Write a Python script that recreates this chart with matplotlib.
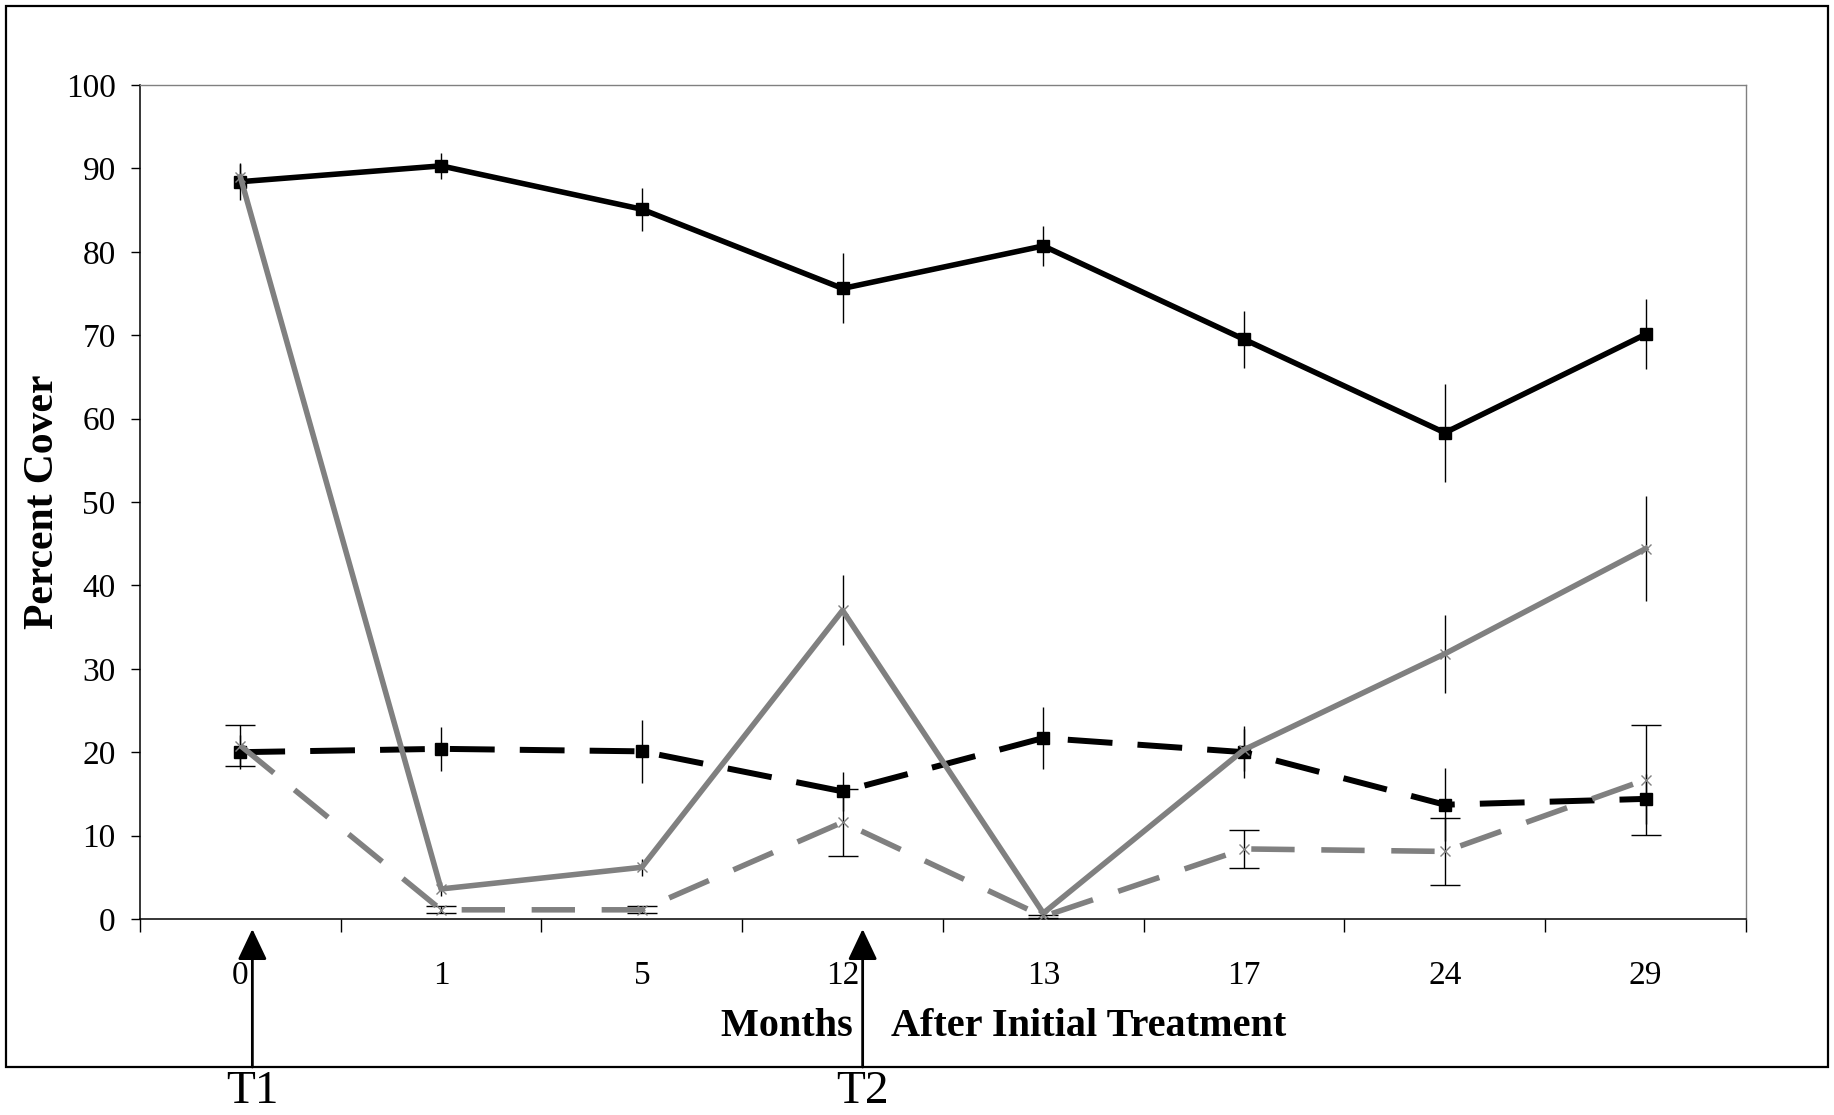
import matplotlib.pyplot as plt
from matplotlib.patches import Rectangle

plt.rcParams['font.family'] = ['Liberation Serif', 'DejaVu Serif']

# months after initial treatment (category axis)
months = ['0', '1', '5', '12', '13', '17', '24', '29']

# percent cover
black_solid = [88.4, 90.3, 85.1, 75.6, 80.7, 69.5, 58.3, 70.1]
black_solid_err = [2.2, 1.6, 2.6, 4.2, 2.4, 3.4, 5.9, 4.2]
black_dash = [20.0, 20.4, 20.1, 15.3, 21.7, 20.0, 13.7, 14.4]
black_dash_err = [2.0, 2.6, 3.8, 2.3, 3.7, 3.1, 4.4, 3.0]
gray_solid = [89.0, 3.6, 6.2, 37.0, 0.7, 20.3, 31.8, 44.4]
gray_solid_err = [1.5, 0.8, 1.0, 4.2, 0.4, 2.5, 4.7, 6.3]
gray_dash = [20.8, 1.1, 1.1, 11.6, 0.3, 8.4, 8.1, 16.7]
gray_dash_err = [2.5, 0.4, 0.4, 4.0, 0.2, 2.3, 4.0, 6.6]

# treatment arrows: (label, position on the category axis)
treatments = [('T1', 0.06), ('T2', 3.1)]

GRAY = '#808080'
x = list(range(len(months)))

fig = plt.figure(figsize=(18.34, 11.15), dpi=100)
ax = fig.add_axes([0.0763, 0.1758, 0.8757, 0.748])

# outer chart border
fig.patches.append(Rectangle((0.0033, 0.043), 0.9934, 0.9516, transform=fig.transFigure,
                             fill=False, edgecolor='black', linewidth=1.6))

ax.errorbar(x, black_solid, yerr=black_solid_err, color='black', lw=4.0,
            marker='s', ms=9, ecolor='black', elinewidth=1.0, capsize=0, zorder=3)
ax.errorbar(x, black_dash, yerr=black_dash_err, color='black', lw=4.3, dashes=(7.5, 4.2),
            marker='s', ms=9, ecolor='black', elinewidth=1.0, capsize=0, zorder=4)
ax.errorbar(x, gray_solid, yerr=gray_solid_err, color=GRAY, lw=4.0,
            marker='x', ms=7, mew=1.0, ecolor='black', elinewidth=1.0, capsize=0, zorder=5)
ax.errorbar(x, gray_dash, yerr=gray_dash_err, color=GRAY, lw=4.0, dashes=(7.8, 4.8),
            marker='x', ms=7, mew=1.0, ecolor='black', elinewidth=1.0, capsize=11,
            capthick=1.0, zorder=6)

ax.set_xlim(-0.5, len(months) - 0.5)
ax.set_ylim(0, 100)
ax.set_yticks(range(0, 101, 10))
ax.set_xticks(x)
ax.set_xticklabels(months)
ax.set_xticks([i - 0.5 for i in range(len(months) + 1)], minor=True)

ax.tick_params(axis='y', direction='out', length=6.5, width=1.0, pad=11, labelsize=24)
ax.tick_params(axis='x', which='major', length=0, pad=30, labelsize=24)
ax.tick_params(axis='x', which='minor', direction='out', length=9, width=1.0)

for side in ['top', 'right']:
    ax.spines[side].set_color(GRAY)
    ax.spines[side].set_linewidth(1.0)
for side in ['left', 'bottom']:
    ax.spines[side].set_color('black')
    ax.spines[side].set_linewidth(1.1)

ax.text(-0.0604, 0.5, 'Percent Cover', transform=ax.transAxes, rotation=90,
        ha='center', va='center', fontsize=30, fontweight='bold')
ax.text(0.5377, -0.1295, 'Months    After Initial Treatment', transform=ax.transAxes,
        ha='center', va='center', fontsize=29, fontweight='bold')

trans = ax.get_xaxis_transform()
for label, pos in treatments:
    ax.annotate('', xy=(pos, -0.012), xycoords=trans, xytext=(pos, -0.1775), textcoords=trans,
                arrowprops=dict(arrowstyle='-|>,head_length=1.9,head_width=0.9',
                                mutation_scale=10, color='black', lw=2.0,
                                shrinkA=0, shrinkB=0),
                annotation_clip=False)
    ax.text(pos, -0.2074, label, transform=trans, ha='center', va='center',
            fontsize=34, clip_on=False)

fig.savefig('out.png', dpi=100)
